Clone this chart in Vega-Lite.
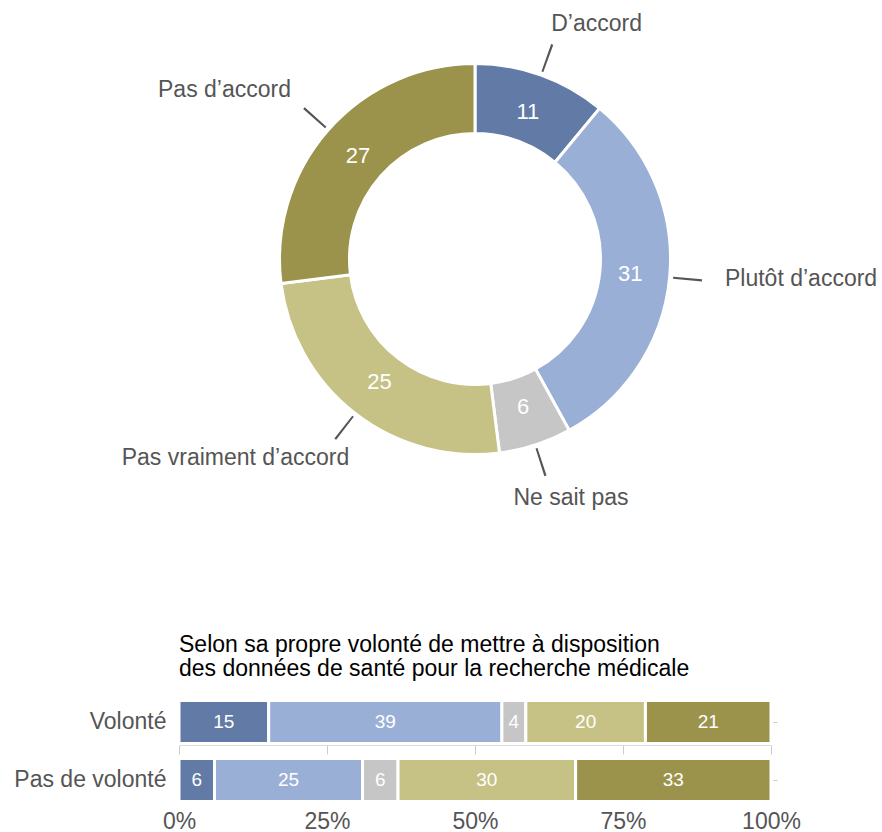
{
  "$schema": "https://vega.github.io/schema/vega-lite/v6.json",
  "padding": {"left": 13, "top": 0, "right": 0, "bottom": 0},
  "background": "white",
  "config": {"view": {"stroke": null}, "font": "Liberation Sans", "axis": {"grid": false}},
  "spacing": 116,
  "vconcat": [
    {
      "width": 592,
      "height": 518,
      "data": {"values": [
        {"categorie": "D’accord", "ordre": 1, "valeur": 11},
        {"categorie": "Plutôt d’accord", "ordre": 2, "valeur": 31},
        {"categorie": "Ne sait pas", "ordre": 3, "valeur": 6},
        {"categorie": "Pas vraiment d’accord", "ordre": 4, "valeur": 25},
        {"categorie": "Pas d’accord", "ordre": 5, "valeur": 27}
      ]},
      "transform": [
        {"stack": "valeur", "groupby": [], "sort": [{"field": "ordre"}], "as": ["v0", "v1"]},
        {"calculate": "(datum.v0 + datum.v1) / 2", "as": "mid"},
        {"calculate": "datum.mid - 0.08", "as": "m0"},
        {"calculate": "datum.mid + 0.08", "as": "m1"}
      ],
      "layer": [
        {
          "mark": {"type": "arc", "radius": 195.5, "radius2": 125.5, "stroke": "white", "strokeWidth": 3},
          "encoding": {
            "theta": {"field": "v0", "type": "quantitative", "stack": null, "scale": {"domain": [0, 100]}},
            "theta2": {"field": "v1"},
            "color": {
              "field": "categorie", "type": "nominal", "legend": null,
              "scale": {
                "domain": ["D’accord", "Plutôt d’accord", "Ne sait pas", "Pas vraiment d’accord", "Pas d’accord"],
                "range": ["#627aa6", "#9aafd6", "#c6c6c6", "#c6c285", "#9b934c"]
              }
            }
          }
        },
        {
          "mark": {"type": "arc", "radius": 228, "radius2": 199, "color": "#555555"},
          "encoding": {
            "theta": {"field": "m0", "type": "quantitative", "stack": null, "scale": {"domain": [0, 100]}},
            "theta2": {"field": "m1"}
          }
        },
        {
          "mark": {"type": "text", "radius": 156, "color": "white", "fontSize": 22, "baseline": "middle"},
          "encoding": {
            "theta": {"field": "mid", "type": "quantitative", "stack": null, "scale": {"domain": [0, 100]}},
            "text": {"field": "valeur", "type": "quantitative"}
          }
        },
        {
          "transform": [{"filter": "datum.ordre == 1"}],
          "mark": {"type": "text", "radius": 228, "color": "#555555", "fontSize": 23, "align": "left", "baseline": "alphabetic", "dx": -1, "dy": -13.5},
          "encoding": {
            "theta": {"field": "mid", "type": "quantitative", "stack": null, "scale": {"domain": [0, 100]}},
            "text": {"field": "categorie", "type": "nominal"}
          }
        },
        {
          "transform": [{"filter": "datum.ordre == 2"}],
          "mark": {"type": "text", "radius": 228, "color": "#555555", "fontSize": 23, "align": "left", "baseline": "alphabetic", "dx": 23, "dy": 6},
          "encoding": {
            "theta": {"field": "mid", "type": "quantitative", "stack": null, "scale": {"domain": [0, 100]}},
            "text": {"field": "categorie", "type": "nominal"}
          }
        },
        {
          "transform": [{"filter": "datum.ordre == 3"}],
          "mark": {"type": "text", "radius": 228, "color": "#555555", "fontSize": 23, "align": "center", "baseline": "alphabetic", "dx": 25.5, "dy": 29},
          "encoding": {
            "theta": {"field": "mid", "type": "quantitative", "stack": null, "scale": {"domain": [0, 100]}},
            "text": {"field": "categorie", "type": "nominal"}
          }
        },
        {
          "transform": [{"filter": "datum.ordre == 4"}],
          "mark": {"type": "text", "radius": 228, "color": "#555555", "fontSize": 23, "align": "right", "baseline": "alphabetic", "dx": 14, "dy": 26},
          "encoding": {
            "theta": {"field": "mid", "type": "quantitative", "stack": null, "scale": {"domain": [0, 100]}},
            "text": {"field": "categorie", "type": "nominal"}
          }
        },
        {
          "transform": [{"filter": "datum.ordre == 5"}],
          "mark": {"type": "text", "radius": 228, "color": "#555555", "fontSize": 23, "align": "right", "baseline": "alphabetic", "dx": -13, "dy": -11},
          "encoding": {
            "theta": {"field": "mid", "type": "quantitative", "stack": null, "scale": {"domain": [0, 100]}},
            "text": {"field": "categorie", "type": "nominal"}
          }
        }
      ]
    },
    {
      "width": 592,
      "height": 116,
      "title": {
        "text": ["Selon sa propre volonté de mettre à disposition", "des données de santé pour la recherche médicale"],
        "anchor": "start", "frame": "group", "fontSize": 23, "fontWeight": "normal", "color": "black", "lineHeight": 24, "offset": 12
      },
      "data": {"values": [
        {"groupe": "Volonté", "categorie": "D’accord", "ordre": 1, "valeur": 15},
        {"groupe": "Volonté", "categorie": "Plutôt d’accord", "ordre": 2, "valeur": 39},
        {"groupe": "Volonté", "categorie": "Ne sait pas", "ordre": 3, "valeur": 4},
        {"groupe": "Volonté", "categorie": "Pas vraiment d’accord", "ordre": 4, "valeur": 20},
        {"groupe": "Volonté", "categorie": "Pas d’accord", "ordre": 5, "valeur": 21},
        {"groupe": "Pas de volonté", "categorie": "D’accord", "ordre": 1, "valeur": 6},
        {"groupe": "Pas de volonté", "categorie": "Plutôt d’accord", "ordre": 2, "valeur": 25},
        {"groupe": "Pas de volonté", "categorie": "Ne sait pas", "ordre": 3, "valeur": 6},
        {"groupe": "Pas de volonté", "categorie": "Pas vraiment d’accord", "ordre": 4, "valeur": 30},
        {"groupe": "Pas de volonté", "categorie": "Pas d’accord", "ordre": 5, "valeur": 33}
      ]},
      "transform": [
        {"stack": "valeur", "groupby": ["groupe"], "sort": [{"field": "ordre"}], "offset": "normalize", "as": ["x0", "x1"]},
        {"calculate": "(datum.x0 + datum.x1) / 2", "as": "xm"}
      ],
      "layer": [
        {
          "mark": {"type": "bar", "stroke": "white", "strokeWidth": 3},
          "encoding": {
            "y": {
              "field": "groupe", "type": "nominal", "sort": ["Volonté", "Pas de volonté"],
              "scale": {"paddingInner": 0.26, "paddingOuter": 0.13},
              "axis": {"title": null, "domain": false, "ticks": false, "labelFontSize": 23, "labelColor": "#555555", "labelPadding": 13}
            },
            "x": {
              "field": "x0", "type": "quantitative", "scale": {"domain": [0, 1]},
              "axis": {"title": null, "domain": false, "ticks": false, "values": [0, 0.25, 0.5, 0.75, 1], "format": ".0%", "labelFontSize": 23, "labelColor": "#555555", "labelPadding": 1, "labelFlush": false, "labelOverlap": false, "grid": false}
            },
            "x2": {"field": "x1"},
            "color": {
              "field": "categorie", "type": "nominal", "legend": null,
              "scale": {
                "domain": ["D’accord", "Plutôt d’accord", "Ne sait pas", "Pas vraiment d’accord", "Pas d’accord"],
                "range": ["#627aa6", "#9aafd6", "#c6c6c6", "#c6c285", "#9b934c"]
              }
            }
          }
        },
        {
          "mark": {"type": "text", "color": "white", "fontSize": 19, "baseline": "middle"},
          "encoding": {
            "y": {
              "field": "groupe", "type": "nominal", "sort": ["Volonté", "Pas de volonté"],
              "axis": {"orient": "right", "title": null, "domain": false, "labels": false, "ticks": true, "tickSize": 4, "tickColor": "#cccccc", "offset": 2}
            },
            "x": {
              "field": "xm", "type": "quantitative",
              "axis": {"orient": "bottom", "title": null, "labels": false, "domain": true, "domainColor": "#dddddd", "ticks": true, "tickSize": 9, "tickColor": "#cccccc", "values": [0, 0.25, 0.5, 0.75, 1], "offset": -64, "grid": false}
            },
            "text": {"field": "valeur", "type": "quantitative"}
          }
        }
      ],
      "resolve": {"axis": {"x": "independent", "y": "independent"}}
    }
  ]
}
